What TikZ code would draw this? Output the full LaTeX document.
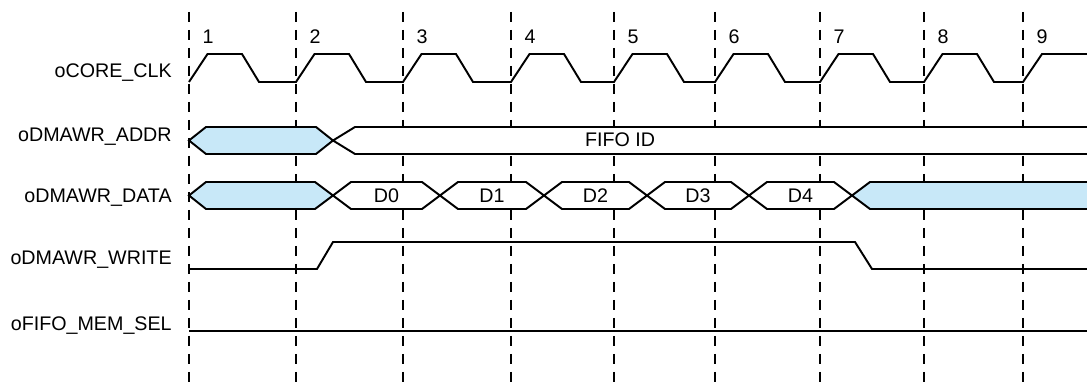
\documentclass[tikz,border=0pt]{standalone}
\usepackage{fontspec}
\setmainfont{Liberation Sans}

\begin{document}
\begin{tikzpicture}
  \definecolor{barrabg}{RGB}{200,232,248}
  \tikzstyle{sig}=[line width=1.1pt, line join=miter]
  \tikzstyle{grade}=[line width=1pt, dash pattern=on 0.2cm off 0.16cm]
  \tikzstyle{nome}=[anchor=east, font=\fontsize{11.2}{13}\selectfont, inner sep=0pt]
  \tikzstyle{valor}=[font=\fontsize{11.2}{13}\selectfont, inner sep=0pt]

  % Area total da figura, 21,74 x 7,74 cm.
  \useasboundingbox (0,0) rectangle (21.74,7.74);

  % Linhas tracejadas de cada borda de subida, com o numero do ciclo.
  \foreach \x [count=\i] in {3.78,5.92,8.06,10.22,12.28,14.30,16.40,18.48,20.46} {
    \draw[grade] (\x,7.50) -- (\x,0);
    \node[valor] (n\i) at (\x+0.38,7.00) {\i};
  }

  % Nomes dos sinais, alinhados a direita em x = 3,44.
  \node[nome] (lclk) at (3.44,6.28) {oCORE\_CLK};
  \node[nome] (laddr) at (3.44,5.00) {oDMAWR\_ADDR};
  \node[nome] (ldata) at (3.44,3.78) {oDMAWR\_DATA};
  \node[nome] (lwrite) at (3.44,2.54) {oDMAWR\_WRITE};
  \node[nome] (lsel) at (3.44,1.22) {oFIFO\_MEM\_SEL};

  % Relogio: baixo em 6,10 e alto em 6,66.
  \draw[sig] (3.78,6.10)
    foreach \x in {3.78,5.92,8.06,10.22,12.28,14.30,16.40,18.48} {
      -- (\x,6.10) -- (\x+0.37,6.66) -- (\x+1.06,6.66) -- (\x+1.40,6.10)
    }
    -- (20.46,6.10) -- (20.84,6.66) -- (21.74,6.66);

  % Endereco: valor indefinido e depois FIFO ID ate o fim.
  \filldraw[sig, fill=barrabg] (3.78,4.93) -- (4.12,5.20) -- (6.32,5.20) -- (6.66,4.93)
    -- (6.32,4.66) -- (4.12,4.66) -- cycle;
  \filldraw[sig, fill=white] (6.66,4.93) -- (7.10,5.20) -- (21.90,5.20) -- (21.90,4.66)
    -- (7.10,4.66) -- cycle;
  \node[valor] (fifo) at (12.40,4.94) {FIFO ID};

  % Dados: D0 a D4 entre os cruzamentos.
  \filldraw[sig, fill=barrabg] (3.78,3.83) -- (4.12,4.10) -- (6.30,4.10) -- (6.66,3.83)
    -- (6.30,3.56) -- (4.12,3.56) -- cycle;
  \foreach \a/\b [count=\i from 0] in {6.66/8.80,8.80/10.88,10.88/12.94,12.94/14.98,14.98/17.04} {
    \filldraw[sig, fill=white] (\a,3.83) -- (\a+0.36,4.10) -- (\b-0.36,4.10) -- (\b,3.83)
      -- (\b-0.36,3.56) -- (\a+0.36,3.56) -- cycle;
    \node[valor] (d\i) at ({(\a+\b)/2},3.82) {D\i};
  }
  \filldraw[sig, fill=barrabg] (17.04,3.83) -- (17.40,4.10) -- (21.90,4.10) -- (21.90,3.56)
    -- (17.40,3.56) -- cycle;

  % Escrita ativa do ciclo 2 ao 7.
  \draw[sig] (3.78,2.36) -- (6.34,2.36) -- (6.66,2.90) -- (17.10,2.90) -- (17.44,2.36) -- (21.74,2.36);

  % Selecao de memoria sempre baixa.
  \draw[sig] (3.78,1.12) -- (21.74,1.12);
\end{tikzpicture}
\end{document}
